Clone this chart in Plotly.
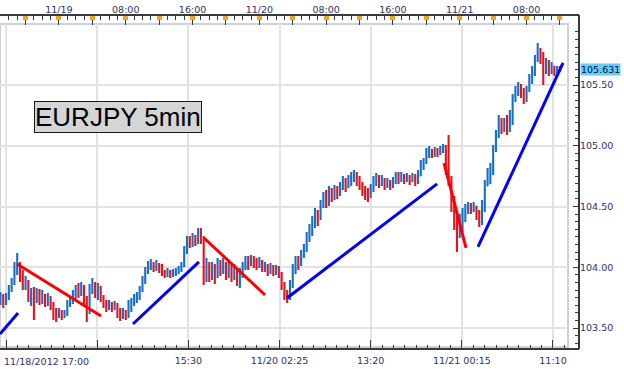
import plotly.graph_objects as go
import pandas as pd

# ---------------- data (EURJPY, 20-min bars) ----------------
start_time = "2012-11-18 17:00"
bar_freq = "20min"
first_open = 103.731

close = [
    103.764, 103.714, 103.747, 103.813, 103.871, 103.978, 104.011, 103.928, 103.863, 103.879,
    103.747, 103.797, 103.731, 103.788, 103.747, 103.764, 103.714, 103.747, 103.698, 103.616,
    103.599, 103.632, 103.599, 103.616, 103.690, 103.731, 103.764, 103.813, 103.797, 103.838,
    103.731, 103.632, 103.813, 103.863, 103.797, 103.830, 103.747, 103.706, 103.681, 103.698,
    103.665, 103.690, 103.632, 103.599, 103.624, 103.599, 103.681, 103.714, 103.731, 103.764,
    103.813, 103.895, 103.961, 104.011, 104.027, 103.994, 104.019, 103.994, 103.961, 103.945,
    103.961, 103.945, 103.953, 103.970, 103.978, 104.019, 104.126, 104.225, 104.192, 104.241,
    104.208, 104.291, 104.241, 103.961, 104.011, 103.928, 103.994, 103.945, 104.044, 103.978,
    104.027, 103.961, 103.994, 103.928, 103.978, 103.912, 103.945, 104.011, 104.044, 104.027,
    104.060, 104.044, 104.011, 104.044, 103.994, 104.011, 103.978, 103.994, 103.961, 103.978,
    103.945, 103.863, 103.764, 103.747, 103.846, 103.978, 104.044, 104.027, 104.093, 104.142,
    104.225, 104.291, 104.340, 104.439, 104.406, 104.521, 104.570, 104.537, 104.620, 104.587,
    104.636, 104.603, 104.653, 104.702, 104.669, 104.719, 104.735, 104.760, 104.719, 104.686,
    104.636, 104.603, 104.587, 104.653, 104.702, 104.735, 104.686, 104.719, 104.669, 104.702,
    104.669, 104.702, 104.751, 104.719, 104.751, 104.719, 104.743, 104.719, 104.743, 104.702,
    104.751, 104.834, 104.867, 104.933, 104.949, 104.924, 104.949, 104.933, 104.965, 104.982,
    104.817, 104.719, 104.554, 104.430, 104.291, 104.356, 104.439, 104.472, 104.505, 104.472,
    104.505, 104.439, 104.373, 104.472, 104.669, 104.751, 104.784, 104.965, 105.089, 105.171,
    105.147, 105.179, 105.130, 105.196, 105.377, 105.443, 105.476, 105.443, 105.393, 105.459,
    105.542, 105.607, 105.706, 105.772, 105.723, 105.657, 105.690, 105.624, 105.657, 105.607,
    105.640, 105.631,
]

high = [
    103.797, 103.780, 103.788, 103.854, 103.912, 104.044, 104.118, 104.044, 103.978, 103.928,
    103.895, 103.830, 103.838, 103.830, 103.821, 103.813, 103.780, 103.788, 103.764, 103.714,
    103.665, 103.665, 103.649, 103.649, 103.731, 103.764, 103.813, 103.854, 103.871, 103.879,
    103.854, 103.764, 103.863, 103.912, 103.879, 103.871, 103.846, 103.772, 103.731, 103.731,
    103.714, 103.723, 103.706, 103.665, 103.665, 103.649, 103.731, 103.747, 103.780, 103.797,
    103.846, 103.928, 104.002, 104.052, 104.068, 104.044, 104.060, 104.035, 104.027, 103.978,
    103.994, 103.978, 103.986, 103.994, 104.011, 104.044, 104.175, 104.258, 104.258, 104.282,
    104.266, 104.323, 104.323, 104.258, 104.077, 104.044, 104.044, 104.027, 104.077, 104.060,
    104.077, 104.044, 104.044, 104.019, 104.027, 103.994, 103.994, 104.044, 104.093, 104.093,
    104.101, 104.093, 104.077, 104.085, 104.060, 104.044, 104.027, 104.035, 104.019, 104.019,
    104.011, 103.961, 103.879, 103.813, 103.895, 104.027, 104.093, 104.093, 104.142, 104.192,
    104.291, 104.356, 104.422, 104.488, 104.472, 104.554, 104.620, 104.636, 104.669, 104.653,
    104.677, 104.669, 104.702, 104.751, 104.735, 104.760, 104.784, 104.801, 104.784, 104.751,
    104.702, 104.669, 104.653, 104.686, 104.751, 104.776, 104.760, 104.760, 104.735, 104.735,
    104.719, 104.743, 104.784, 104.784, 104.784, 104.768, 104.776, 104.760, 104.776, 104.768,
    104.801, 104.883, 104.900, 104.982, 104.998, 104.974, 104.990, 104.982, 104.998, 105.015,
    105.007, 105.089, 104.751, 104.587, 104.455, 104.439, 104.488, 104.521, 104.537, 104.529,
    104.537, 104.505, 104.472, 104.554, 104.719, 104.817, 104.858, 105.007, 105.130, 105.254,
    105.229, 105.229, 105.254, 105.295, 105.426, 105.492, 105.525, 105.509, 105.476, 105.492,
    105.591, 105.657, 105.747, 105.846, 105.805, 105.772, 105.723, 105.706, 105.690, 105.657,
    105.657, 105.657,
]

low = [
    103.690, 103.665, 103.690, 103.731, 103.797, 103.854, 103.937, 103.879, 103.813, 103.813,
    103.714, 103.681, 103.566, 103.706, 103.690, 103.698, 103.673, 103.681, 103.649, 103.566,
    103.550, 103.583, 103.566, 103.583, 103.599, 103.673, 103.698, 103.731, 103.747, 103.764,
    103.681, 103.550, 103.616, 103.780, 103.747, 103.731, 103.714, 103.665, 103.632, 103.649,
    103.632, 103.649, 103.583, 103.558, 103.574, 103.566, 103.583, 103.632, 103.681, 103.706,
    103.731, 103.797, 103.863, 103.945, 103.978, 103.961, 103.970, 103.953, 103.928, 103.912,
    103.920, 103.912, 103.920, 103.928, 103.945, 103.961, 104.002, 104.109, 104.159, 104.167,
    104.175, 104.192, 104.192, 103.854, 103.879, 103.879, 103.895, 103.863, 103.912, 103.928,
    103.945, 103.895, 103.912, 103.879, 103.895, 103.846, 103.830, 103.912, 103.978, 103.978,
    104.011, 103.994, 103.978, 103.994, 103.961, 103.961, 103.928, 103.945, 103.928, 103.937,
    103.912, 103.813, 103.731, 103.706, 103.731, 103.830, 103.945, 103.978, 104.011, 104.077,
    104.126, 104.208, 104.258, 104.323, 104.340, 104.389, 104.488, 104.488, 104.505, 104.537,
    104.554, 104.562, 104.587, 104.636, 104.620, 104.653, 104.669, 104.702, 104.669, 104.636,
    104.587, 104.554, 104.537, 104.570, 104.620, 104.669, 104.653, 104.669, 104.636, 104.653,
    104.636, 104.653, 104.686, 104.686, 104.702, 104.686, 104.702, 104.677, 104.702, 104.669,
    104.686, 104.751, 104.801, 104.850, 104.900, 104.900, 104.908, 104.908, 104.924, 104.941,
    104.760, 104.669, 104.455, 104.307, 104.126, 104.241, 104.291, 104.373, 104.439, 104.439,
    104.455, 104.389, 104.332, 104.348, 104.455, 104.669, 104.686, 104.760, 104.949, 105.064,
    105.097, 105.114, 105.089, 105.114, 105.171, 105.360, 105.410, 105.393, 105.344, 105.360,
    105.443, 105.509, 105.574, 105.690, 105.673, 105.500, 105.591, 105.574, 105.591, 105.574,
    105.591, 105.607,
]

# trend lines (start, end)
red_line_x = [["2012-11-18 18:59", "2012-11-19 05:02"],
              ["2012-11-19 17:22", "2012-11-20 00:41"],
              ["2012-11-20 22:07", "2012-11-21 00:45"]]
red_line_y = [[104.027, 103.599], [104.241, 103.772], [104.858, 104.159]]
blue_line_x = [["2012-11-18 16:56", "2012-11-18 19:06"],
               ["2012-11-19 08:52", "2012-11-19 16:46"],
               ["2012-11-20 03:19", "2012-11-20 21:17"],
               ["2012-11-21 02:11", "2012-11-21 12:22"]]
blue_line_y = [[103.451, 103.624], [103.533, 104.044], [103.747, 104.686], [104.167, 105.682]]

# axes
x_range = ["2012-11-18 16:56:24", "2012-11-21 12:57:50"]
y_range = [103.344, 106.002]
y_tick_vals = [103.5, 104.0, 104.5, 105.0, 105.5]
y_tick_text = ["103.50", "104.00", "104.50", "105.00", "105.50"]
bottom_tick_vals = ["2012-11-18 17:40", "2012-11-19 04:35", "2012-11-19 15:30", "2012-11-20 02:25",
                    "2012-11-20 13:20", "2012-11-21 00:15", "2012-11-21 11:10"]
bottom_tick_text = ["", "", "15:30", "11/20 02:25", "13:20", "11/21 00:15", "11:10"]
start_label = "11/18/2012 17:00"
top_tick_vals = ["2012-11-18 20:00", "2012-11-19 00:00", "2012-11-19 04:00", "2012-11-19 08:00",
                 "2012-11-19 12:00", "2012-11-19 16:00", "2012-11-19 20:00", "2012-11-20 00:00",
                 "2012-11-20 04:00", "2012-11-20 08:00", "2012-11-20 12:00", "2012-11-20 16:00",
                 "2012-11-20 20:00", "2012-11-21 00:00", "2012-11-21 04:00", "2012-11-21 08:00",
                 "2012-11-21 12:00"]
top_tick_text = ["", "11/19", "", "08:00", "", "16:00", "", "11/20", "", "08:00", "", "16:00",
                 "", "11/21", "", "08:00", ""]
title_text = "EURJPY 5min"

# ---------------- styling ----------------
W, H = 624, 369
L, R, T, B = 0, 45, 15, 20
PW, PH = W - L - R, H - T - B
x_dom = [0, 568 / PW]
y_dom = [2 / PH, 325 / PH]

BLUE_BAR = "#1670c8"
RED_BAR = "#e4141c"
AXIS = "#3a3a3a"
GRID = "#e2e2e2"
FRAME = "#cdd1d8"
LABEL = "#30306a"
ORANGE = "#f5a21c"
FONT = "DejaVu Sans"
FS = 9.5

times = pd.date_range(start_time, periods=len(close), freq=bar_freq)
opens = [first_open] + close[:-1]

fig = go.Figure()
fig.add_trace(go.Ohlc(
    x=times, open=opens, high=high, low=low, close=close,
    increasing=dict(line=dict(color=BLUE_BAR, width=2.1)),
    decreasing=dict(line=dict(color=RED_BAR, width=2.1)),
    tickwidth=0.2, hoverinfo="skip", showlegend=False,
))
for xs, ys in zip(red_line_x, red_line_y):
    fig.add_trace(go.Scatter(x=xs, y=ys, mode="lines", line=dict(color="#ff0000", width=3),
                             hoverinfo="skip", showlegend=False))
for xs, ys in zip(blue_line_x, blue_line_y):
    fig.add_trace(go.Scatter(x=xs, y=ys, mode="lines", line=dict(color="#0000ff", width=3),
                             hoverinfo="skip", showlegend=False))
# register top axes
for ax in ("x2", "x3"):
    fig.add_trace(go.Scatter(x=[], y=[], xaxis=ax, yaxis="y", showlegend=False, hoverinfo="skip"))

# bottom minor ticks: 8 sub-intervals per major interval
maj = pd.to_datetime(bottom_tick_vals)
step = (maj[1] - maj[0]) / 8
minor_vals = [m + k * step for m in maj for k in range(1, 8)]

tickfont = dict(family=FONT, size=FS, color=LABEL)

fig.update_layout(
    width=W, height=H, margin=dict(l=L, r=R, t=T, b=B),
    paper_bgcolor="white", plot_bgcolor="white", showlegend=False,
    xaxis=dict(
        type="date", domain=x_dom, range=x_range, anchor="free", position=0,
        rangeslider=dict(visible=False), showline=False, zeroline=False,
        tickmode="array", tickvals=bottom_tick_vals, ticktext=bottom_tick_text,
        ticks="inside", ticklen=9, tickwidth=1, tickcolor=AXIS, tickfont=tickfont,
        ticklabelstandoff=4,
        showgrid=True, gridcolor=GRID, gridwidth=2,
        minor=dict(tickmode="array", tickvals=minor_vals, ticks="inside", ticklen=4,
                   tickwidth=1, tickcolor=AXIS, showgrid=False),
    ),
    xaxis2=dict(
        type="date", overlaying="x", side="top", anchor="free", position=1, range=x_range,
        showline=False, zeroline=False, showgrid=False,
        tickmode="array", tickvals=top_tick_vals, ticktext=top_tick_text,
        ticks="inside", ticklen=9, tickwidth=1, tickcolor=AXIS, tickfont=tickfont,
        minor=dict(dtick=3600000, tick0="2012-11-18 17:00", ticks="inside", ticklen=4,
                   tickwidth=1, tickcolor=AXIS, showgrid=False),
    ),
    xaxis3=dict(
        type="date", overlaying="x", side="top", anchor="free", position=1, range=x_range,
        showline=False, zeroline=False, showgrid=False, showticklabels=False,
        tickmode="array", tickvals=top_tick_vals,
        ticks="inside", ticklen=4, tickwidth=5, tickcolor=ORANGE,
    ),
    yaxis=dict(
        domain=y_dom, range=y_range, side="right", anchor="free", position=1,
        showline=False, zeroline=False,
        tickmode="array", tickvals=y_tick_vals, ticktext=y_tick_text,
        ticks="inside", ticklen=6, tickwidth=1, tickcolor=AXIS, tickfont=tickfont,
        showgrid=True, gridcolor=GRID, gridwidth=2,
        minor=dict(dtick=0.0625, tick0=103.5, ticks="inside", ticklen=4, tickwidth=1,
                   tickcolor=AXIS, showgrid=False),
    ),
    shapes=[
        dict(type="rect", xref="x domain", yref="y domain", x0=0, x1=1, y0=0, y1=1,
             line=dict(color=FRAME, width=2), layer="below"),
        dict(type="line", xref="paper", yref="paper", x0=0, x1=1, y0=1, y1=1,
             line=dict(color=AXIS, width=2)),
        dict(type="line", xref="paper", yref="paper", x0=0, x1=1, y0=0, y1=0,
             line=dict(color=AXIS, width=2)),
        dict(type="line", xref="paper", yref="paper", x0=1, x1=1, y0=0, y1=1,
             line=dict(color=AXIS, width=2)),
    ],
    annotations=[
        dict(text=title_text, xref="paper", yref="paper", x=118 / PW, y=(H - B - 117) / PH,
             xanchor="center", yanchor="middle", showarrow=False,
             font=dict(family="Liberation Sans", size=26, color="black"),
             bgcolor="#d5d5d5", bordercolor="#1a1a1a", borderwidth=1, borderpad=0),
        dict(text=f"{close[-1]:.3f}", xref="paper", yref="y", x=1, y=close[-1],
             xanchor="left", yanchor="middle", xshift=1, showarrow=False,
             font=dict(family=FONT, size=FS, color="#101030"),
             bgcolor="#66ccff", borderpad=0),
        dict(text=start_label, xref="paper", yref="paper", x=0.003, y=0,
             xanchor="left", yanchor="middle", yshift=-12, showarrow=False,
             font=tickfont),
    ],
)

fig.write_html(
    "out.html",
    config={"displayModeBar": False, "staticPlot": True},
    post_script="document.body.style.margin='0';document.body.style.padding='0';",
)
